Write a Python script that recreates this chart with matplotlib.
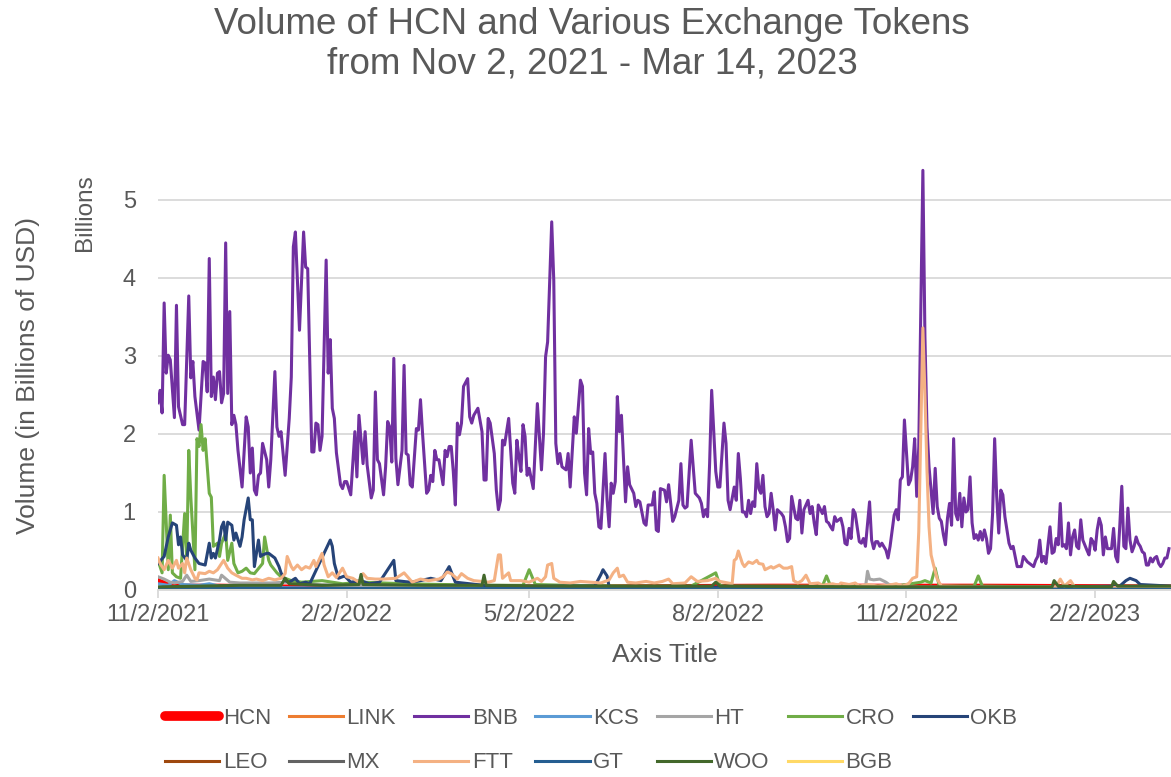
import matplotlib
matplotlib.use("Agg")
import matplotlib.pyplot as plt
import pandas as pd

plt.rcParams['font.family'] = ['Liberation Sans', 'DejaVu Sans']

# day offsets from Nov 2, 2021 and daily volume in billions USD
start = pd.Timestamp("2021-11-02")

bnb_days = [0, 1, 2, 3, 4, 5, 6, 8, 9, 10, 12, 13, 15, 16, 17, 18, 20, 22, 23, 24, 25, 26, 27, 28, 29, 30,
            31, 32, 33, 34, 35, 36, 37, 38, 39, 41, 43, 44, 45, 46, 47, 48, 49, 50, 51, 53, 54, 55, 57, 58,
            59, 60, 62, 64, 65, 66, 67, 69, 71, 72, 73, 75, 76, 77, 78, 79, 80, 82, 83, 84, 85, 86, 87, 89,
            90, 91, 92, 94, 96, 97, 98, 100, 101, 102, 104, 105, 106, 107, 108, 110, 111, 112, 113, 114, 115,
            116, 117, 119, 120, 121, 122, 123, 124, 126, 127, 128, 129, 131, 132, 133, 134, 135, 136, 137,
            139, 140, 141, 142, 143, 144, 145, 146, 147, 148, 149, 151, 152, 153, 154, 156, 158, 159, 160,
            161, 162, 164, 165, 166, 167, 168, 169, 171, 173, 174, 175, 176, 177, 178, 179, 180, 181, 183,
            185, 187, 188, 189, 190, 192, 193, 194, 195, 196, 197, 199, 200, 201, 203, 204, 206, 207, 208,
            209, 210, 211, 212, 213, 214, 215, 216, 218, 219, 220, 221, 222, 223, 224, 225, 226, 228, 229,
            230, 232, 233, 234, 235, 237, 238, 239, 241, 242, 243, 244, 245, 247, 248, 249, 251, 252, 254,
            255, 256, 257, 258, 260, 262, 264, 265, 266, 267, 268, 269, 270, 272, 273, 274, 276, 277, 278,
            279, 281, 282, 283, 284, 285, 286, 287, 288, 289, 290, 291, 292, 293, 294, 295, 296, 297, 298,
            299, 300, 301, 302, 304, 305, 306, 307, 308, 309, 311, 312, 313, 314, 315, 317, 318, 319, 320,
            321, 322, 324, 325, 326, 327, 328, 329, 330, 331, 333, 334, 335, 336, 337, 338, 339, 340, 342,
            343, 344, 345, 347, 348, 349, 350, 351, 352, 353, 355, 356, 357, 359, 360, 361, 362, 363, 364,
            366, 367, 368, 369, 370, 371, 372, 373, 374, 375, 376, 377, 378, 379, 380, 381, 382, 383, 384,
            385, 386, 387, 388, 389, 390, 391, 392, 393, 394, 395, 396, 397, 398, 399, 400, 401, 402, 403,
            404, 405, 406, 407, 408, 409, 410, 411, 412, 413, 414, 415, 416, 417, 419, 420, 421, 422, 424,
            425, 427, 428, 429, 430, 431, 432, 433, 435, 436, 437, 438, 439, 440, 441, 442, 443, 444, 445,
            446, 447, 448, 449, 450, 451, 453, 454, 455, 456, 457, 458, 459, 460, 461, 462, 463, 464, 465,
            466, 467, 468, 469, 470, 471, 472, 473, 474, 475, 476, 477, 478, 479, 480, 481, 482, 483, 484,
            485, 486, 487, 488, 489, 490, 491, 492, 493]
bnb_vals = [2.40, 2.56, 2.27, 3.68, 2.78, 3.01, 2.95, 2.21, 3.65, 2.35, 2.12, 2.12, 3.77, 2.72, 2.93, 2.48,
            2.05, 2.93, 2.91, 2.54, 4.25, 2.48, 2.73, 2.44, 2.78, 2.80, 2.40, 2.52, 4.45, 2.52, 3.57, 2.12,
            2.24, 2.12, 1.79, 1.32, 2.22, 2.09, 1.50, 1.82, 1.28, 1.22, 1.47, 1.50, 1.88, 1.67, 1.32, 1.67,
            2.80, 2.09, 1.97, 2.03, 1.47, 2.20, 2.73, 4.40, 4.59, 3.33, 4.59, 4.14, 4.12, 1.77, 1.77, 2.14,
            2.12, 1.79, 1.97, 4.23, 2.78, 3.21, 2.33, 2.20, 1.76, 1.35, 1.30, 1.39, 1.39, 1.22, 2.03, 1.45,
            2.24, 1.62, 2.03, 1.60, 1.18, 1.28, 2.54, 1.67, 1.62, 1.22, 1.58, 2.16, 2.09, 1.64, 2.97, 1.69,
            1.35, 1.79, 2.88, 1.75, 1.73, 1.35, 1.32, 2.07, 2.05, 2.44, 2.01, 1.24, 1.28, 1.47, 1.39, 1.79,
            1.67, 1.67, 1.35, 1.79, 1.71, 1.84, 1.84, 1.52, 1.09, 2.14, 1.99, 2.14, 2.61, 2.71, 2.22, 2.14,
            2.24, 2.33, 2.03, 1.41, 1.41, 2.20, 2.14, 1.75, 1.28, 1.03, 1.15, 1.92, 1.86, 2.20, 1.37, 1.24,
            1.92, 1.71, 1.52, 2.12, 1.97, 1.47, 1.56, 1.30, 2.39, 1.54, 2.01, 2.99, 3.18, 4.72, 3.97, 1.88,
            1.62, 1.75, 1.58, 1.54, 1.75, 1.32, 2.22, 2.01, 2.69, 2.61, 1.50, 1.22, 2.07, 1.75, 1.77, 1.24,
            1.11, 0.81, 0.79, 1.75, 1.15, 0.81, 1.37, 1.24, 1.39, 2.48, 2.03, 2.24, 1.13, 1.58, 1.35, 1.24,
            1.07, 1.15, 1.13, 0.86, 0.83, 1.09, 1.09, 1.26, 0.77, 0.75, 1.30, 1.28, 1.13, 1.35, 0.88, 0.94,
            1.15, 1.62, 1.09, 1.05, 1.07, 1.92, 1.24, 1.18, 1.11, 0.94, 1.03, 0.94, 1.62, 2.56, 1.52, 1.32,
            1.32, 2.14, 1.88, 1.15, 1.03, 1.32, 1.15, 1.75, 1.43, 1.00, 1.00, 0.94, 1.15, 0.98, 1.13, 1.07,
            1.62, 1.30, 1.24, 1.47, 1.07, 0.94, 0.98, 1.24, 1.03, 0.77, 1.03, 0.98, 0.94, 0.81, 0.62, 0.66,
            1.20, 0.92, 0.90, 1.15, 0.73, 1.03, 1.15, 0.98, 1.07, 0.86, 0.71, 1.09, 0.98, 1.07, 0.88, 0.86,
            0.81, 0.77, 0.94, 0.88, 0.92, 0.81, 0.60, 0.58, 0.79, 0.66, 1.03, 0.98, 0.62, 0.60, 0.66, 0.56,
            1.13, 0.64, 0.53, 0.62, 0.62, 0.56, 0.60, 0.51, 0.41, 0.56, 0.96, 1.03, 0.90, 1.41, 1.45, 2.18,
            1.35, 1.41, 1.58, 1.94, 1.20, 1.84, 3.59, 5.38, 3.25, 2.09, 1.58, 1.28, 0.98, 1.56, 1.07, 0.92,
            0.88, 0.71, 0.58, 0.92, 1.11, 0.83, 1.94, 0.98, 0.90, 1.24, 0.81, 1.18, 1.00, 1.03, 1.45, 0.86,
            0.66, 0.71, 0.64, 0.75, 0.64, 0.77, 0.66, 0.47, 0.53, 0.98, 1.94, 1.20, 0.73, 1.28, 1.22, 0.94,
            0.77, 0.60, 0.53, 0.56, 0.30, 0.30, 0.30, 0.43, 0.36, 0.34, 0.30, 0.38, 0.43, 0.64, 0.36, 0.43,
            0.34, 0.81, 0.47, 0.49, 0.66, 0.58, 1.11, 0.56, 0.58, 0.53, 0.86, 0.45, 0.68, 0.77, 0.56, 0.53,
            0.90, 0.64, 0.51, 0.45, 0.66, 0.62, 0.51, 0.77, 0.92, 0.83, 0.45, 0.68, 0.53, 0.53, 0.53, 0.79,
            0.43, 0.36, 0.81, 1.33, 0.56, 0.53, 1.05, 0.64, 0.49, 0.56, 0.68, 0.60, 0.56, 0.49, 0.47, 0.32,
            0.32, 0.41, 0.36, 0.41, 0.43, 0.34, 0.30, 0.34, 0.41, 0.41, 0.53]

cro_days = [0, 2, 3, 5, 6, 7, 9, 11, 13, 14, 15, 16, 18, 19, 20, 21, 22, 23, 25, 26, 27, 29, 30, 31, 33, 34,
            36, 37, 39, 41, 43, 45, 47, 51, 52, 54, 55, 58, 60, 65, 70, 80, 90, 100, 120, 140, 160, 178,
            181, 184, 200, 230, 260, 272, 274, 276, 300, 324, 326, 328, 360, 372, 374, 377, 379, 381, 398,
            400, 402, 430, 460, 494]
cro_vals = [0.38, 0.22, 1.47, 0.26, 0.96, 0.22, 0.17, 0.15, 0.98, 0.38, 1.79, 1.19, 0.26, 1.94, 1.84, 2.12,
            1.79, 1.94, 1.24, 1.19, 0.56, 0.60, 0.43, 0.60, 0.73, 0.38, 0.60, 0.34, 0.22, 0.24, 0.28, 0.22,
            0.21, 0.34, 0.68, 0.38, 0.32, 0.22, 0.17, 0.12, 0.10, 0.12, 0.08, 0.10, 0.08, 0.07, 0.06, 0.06,
            0.26, 0.07, 0.06, 0.05, 0.05, 0.22, 0.06, 0.05, 0.05, 0.05, 0.18, 0.05, 0.05, 0.10, 0.12, 0.09,
            0.28, 0.05, 0.05, 0.18, 0.05, 0.04, 0.04, 0.04]

okb_days = [0, 3, 5, 7, 9, 10, 11, 12, 14, 15, 16, 18, 20, 23, 25, 26, 27, 28, 30, 31, 32, 33, 34, 36, 37,
            38, 40, 41, 42, 44, 45, 46, 47, 49, 50, 51, 53, 54, 55, 57, 59, 60, 62, 64, 67, 69, 72, 74, 84,
            85, 86, 88, 91, 94, 99, 103, 108, 115, 116, 123, 128, 133, 138, 142, 145, 152, 162, 177, 196,
            213, 216, 217, 219, 220, 300, 400, 469, 472, 474, 477, 479, 494]
okb_vals = [0.34, 0.43, 0.68, 0.86, 0.83, 0.58, 0.68, 0.45, 0.38, 0.60, 0.51, 0.41, 0.34, 0.32, 0.60, 0.41,
            0.47, 0.41, 0.64, 0.81, 0.87, 0.64, 0.87, 0.83, 0.64, 0.73, 0.56, 0.68, 0.90, 1.18, 0.90, 0.90,
            0.30, 0.64, 0.43, 0.45, 0.47, 0.47, 0.45, 0.41, 0.30, 0.22, 0.12, 0.10, 0.15, 0.08, 0.10, 0.08,
            0.64, 0.56, 0.34, 0.15, 0.18, 0.10, 0.12, 0.08, 0.10, 0.38, 0.12, 0.10, 0.12, 0.15, 0.12, 0.30,
            0.10, 0.08, 0.05, 0.04, 0.05, 0.05, 0.20, 0.26, 0.18, 0.04, 0.03, 0.03, 0.05, 0.12, 0.15, 0.12,
            0.07, 0.05]

ftt_days = [0, 1, 3, 5, 7, 9, 10, 12, 13, 14, 16, 18, 19, 20, 23, 25, 27, 29, 32, 34, 36, 38, 41, 43, 46,
            48, 51, 54, 57, 60, 62, 63, 65, 66, 68, 70, 72, 74, 76, 77, 80, 81, 83, 85, 87, 90, 92, 95, 98,
            100, 102, 106, 110, 116, 120, 124, 128, 132, 137, 139, 141, 143, 146, 148, 151, 154, 158, 161,
            164, 166, 167, 168, 171, 172, 177, 181, 185, 187, 189, 190, 192, 193, 196, 201, 206, 211, 216,
            220, 222, 224, 225, 227, 229, 233, 238, 242, 246, 249, 251, 257, 260, 263, 268, 272, 274, 278,
            280, 281, 282, 283, 285, 286, 288, 290, 292, 293, 295, 296, 299, 300, 303, 305, 307, 309, 310,
            312, 314, 316, 318, 322, 324, 329, 332, 333, 337, 340, 342, 346, 351, 356, 360, 363, 366, 368,
            370, 371, 372, 373, 374, 375, 376, 377, 378, 380, 382, 400, 438, 440, 442, 445, 447, 470, 494]
ftt_vals = [0.41, 0.34, 0.26, 0.38, 0.28, 0.38, 0.28, 0.34, 0.22, 0.41, 0.26, 0.15, 0.13, 0.22, 0.21, 0.24,
            0.22, 0.26, 0.38, 0.28, 0.22, 0.19, 0.15, 0.15, 0.13, 0.14, 0.12, 0.15, 0.13, 0.15, 0.21, 0.43,
            0.30, 0.26, 0.32, 0.26, 0.30, 0.28, 0.38, 0.30, 0.47, 0.32, 0.17, 0.22, 0.16, 0.28, 0.17, 0.15,
            0.10, 0.21, 0.15, 0.14, 0.14, 0.15, 0.22, 0.10, 0.14, 0.12, 0.14, 0.17, 0.23, 0.21, 0.14, 0.21,
            0.15, 0.12, 0.11, 0.10, 0.12, 0.45, 0.45, 0.15, 0.22, 0.12, 0.12, 0.10, 0.15, 0.11, 0.17, 0.32,
            0.34, 0.15, 0.10, 0.09, 0.11, 0.10, 0.09, 0.13, 0.22, 0.28, 0.17, 0.19, 0.10, 0.09, 0.11, 0.09,
            0.11, 0.14, 0.08, 0.09, 0.17, 0.11, 0.12, 0.15, 0.11, 0.09, 0.08, 0.38, 0.40, 0.50, 0.34, 0.30,
            0.36, 0.34, 0.38, 0.34, 0.33, 0.26, 0.30, 0.28, 0.32, 0.28, 0.28, 0.30, 0.12, 0.09, 0.12, 0.19,
            0.08, 0.09, 0.06, 0.08, 0.06, 0.09, 0.07, 0.09, 0.05, 0.07, 0.05, 0.06, 0.08, 0.05, 0.08, 0.15,
            0.17, 0.75, 2.09, 3.36, 2.52, 1.54, 0.81, 0.45, 0.34, 0.14, 0.05, 0.04, 0.04, 0.14, 0.05, 0.12,
            0.04, 0.03, 0.03]

ht_days = [0, 3, 6, 8, 12, 14, 16, 20, 25, 30, 31, 35, 40, 48, 55, 62, 70, 85, 120, 200, 300, 345, 346, 347,
           349, 352, 355, 358, 494]
ht_vals = [0.17, 0.14, 0.10, 0.09, 0.11, 0.19, 0.11, 0.12, 0.14, 0.12, 0.19, 0.10, 0.09, 0.09, 0.09, 0.10,
           0.08, 0.06, 0.05, 0.04, 0.03, 0.03, 0.24, 0.14, 0.13, 0.14, 0.10, 0.04, 0.03]

woo_days = [0, 20, 40, 60, 62, 64, 80, 98, 99, 100, 130, 158, 159, 160, 200, 270, 272, 274, 350, 436, 437,
            439, 465, 466, 468, 494]
woo_vals = [0.04, 0.05, 0.06, 0.06, 0.15, 0.08, 0.06, 0.07, 0.20, 0.07, 0.06, 0.06, 0.19, 0.06, 0.05, 0.05,
            0.10, 0.05, 0.04, 0.04, 0.12, 0.05, 0.04, 0.11, 0.05, 0.05]

hcn_days = [0, 3, 6, 10, 30, 60, 100, 200, 300, 400, 494]
hcn_vals = [0.12, 0.09, 0.06, 0.05, 0.05, 0.04, 0.04, 0.04, 0.05, 0.05, 0.04]

link_days = [0, 60, 120, 200, 300, 400, 494]
link_vals = [0.03, 0.02, 0.02, 0.02, 0.02, 0.02, 0.02]

kcs_days = [0, 5, 8, 12, 20, 25, 30, 40, 60, 100, 200, 300, 400, 494]
kcs_vals = [0.08, 0.06, 0.12, 0.07, 0.06, 0.08, 0.05, 0.04, 0.03, 0.02, 0.02, 0.02, 0.02, 0.02]

leo_days = [0, 494]
leo_vals = [0.01, 0.01]
mx_days = [0, 100, 494]
mx_vals = [0.02, 0.01, 0.01]
gt_days = [0, 60, 494]
gt_vals = [0.03, 0.02, 0.01]
bgb_days = [0, 494]
bgb_vals = [0.005, 0.005]

tick_labels = ["11/2/2021", "2/2/2022", "5/2/2022", "8/2/2022", "11/2/2022", "2/2/2023"]
tick_dates = [pd.Timestamp(2021, 11, 2), pd.Timestamp(2022, 2, 2), pd.Timestamp(2022, 5, 2),
              pd.Timestamp(2022, 8, 2), pd.Timestamp(2022, 11, 2), pd.Timestamp(2023, 2, 2)]

series = [
    ("HCN", hcn_days, hcn_vals, "#FF0000", 3.5),
    ("LINK", link_days, link_vals, "#ED7D31", 2.2),
    ("BNB", bnb_days, bnb_vals, "#7030A0", 2.2),
    ("KCS", kcs_days, kcs_vals, "#5B9BD5", 2.2),
    ("HT", ht_days, ht_vals, "#A5A5A5", 2.2),
    ("CRO", cro_days, cro_vals, "#70AD47", 2.2),
    ("OKB", okb_days, okb_vals, "#264478", 2.2),
    ("LEO", leo_days, leo_vals, "#9E480E", 2.2),
    ("MX", mx_days, mx_vals, "#636363", 2.2),
    ("FTT", ftt_days, ftt_vals, "#F4B183", 2.2),
    ("GT", gt_days, gt_vals, "#255E91", 2.2),
    ("WOO", woo_days, woo_vals, "#43682B", 2.2),
    ("BGB", bgb_days, bgb_vals, "#FFD966", 2.2),
]

txt = "#595959"
grid = "#D9D9D9"

fig = plt.figure(figsize=(11.71, 7.77), dpi=100)
ax = fig.add_axes([158 / 1171, 1 - 590 / 777, 1013 / 1171, 429 / 777])

lines = []
for name, days, vals, color, lw in series:
    dates = start + pd.to_timedelta(days, unit="D")
    ln, = ax.plot(dates, vals, color=color, lw=lw, label=name, solid_joinstyle="round")
    lines.append(ln)

ax.set_xlim(start, start + pd.Timedelta(days=494))
ax.set_ylim(0, 5.5)
ax.set_yticks([0, 1, 2, 3, 4, 5])
ax.set_xticks(tick_dates)
ax.set_xticklabels(tick_labels)
ax.grid(axis="y", color=grid, lw=1.3)
ax.set_axisbelow(True)
for s in ["top", "right", "left"]:
    ax.spines[s].set_visible(False)
ax.spines["bottom"].set_color(grid)
ax.spines["bottom"].set_linewidth(1.3)
ax.tick_params(axis="x", length=6, width=1.3, color=grid, labelsize=17, labelcolor=txt, pad=4)
ax.tick_params(axis="y", length=0, labelsize=17, labelcolor=txt, pad=16)
ax.set_xlabel("Axis Title", fontsize=19, color=txt, labelpad=12)

fig.text(28 / 1171, 1 - 375 / 777, "Volume (in Billions of USD)", rotation=90, ha="center", va="center",
         fontsize=19, color=txt)
fig.text(85 / 1171, 1 - 213 / 777, "Billions", rotation=90, ha="center", va="center", fontsize=17.5, color=txt)
fig.text(592 / 1171, 1 - 44 / 777, "Volume of HCN and Various Exchange Tokens\nfrom Nov 2, 2021 - Mar 14, 2023",
         ha="center", va="center", fontsize=26.5, color=txt, linespacing=1.15)

# legend fills column by column, so interleave to get row-wise order
order = [0, 7, 1, 8, 2, 9, 3, 10, 4, 11, 5, 12, 6]
leg = fig.legend([lines[i] for i in order], [series[i][0] for i in order],
                 loc="upper left", bbox_to_anchor=(165 / 1171, 1 - 708 / 777), ncol=7, frameon=False,
                 fontsize=16, labelcolor=txt, handlelength=2.45, handletextpad=0.15, columnspacing=0.8,
                 labelspacing=1.05, borderpad=0, borderaxespad=0)
leg.get_lines()[0].set_linewidth(7)
leg.get_lines()[0].set_solid_capstyle("round")

fig.savefig("out.png", dpi=100)
